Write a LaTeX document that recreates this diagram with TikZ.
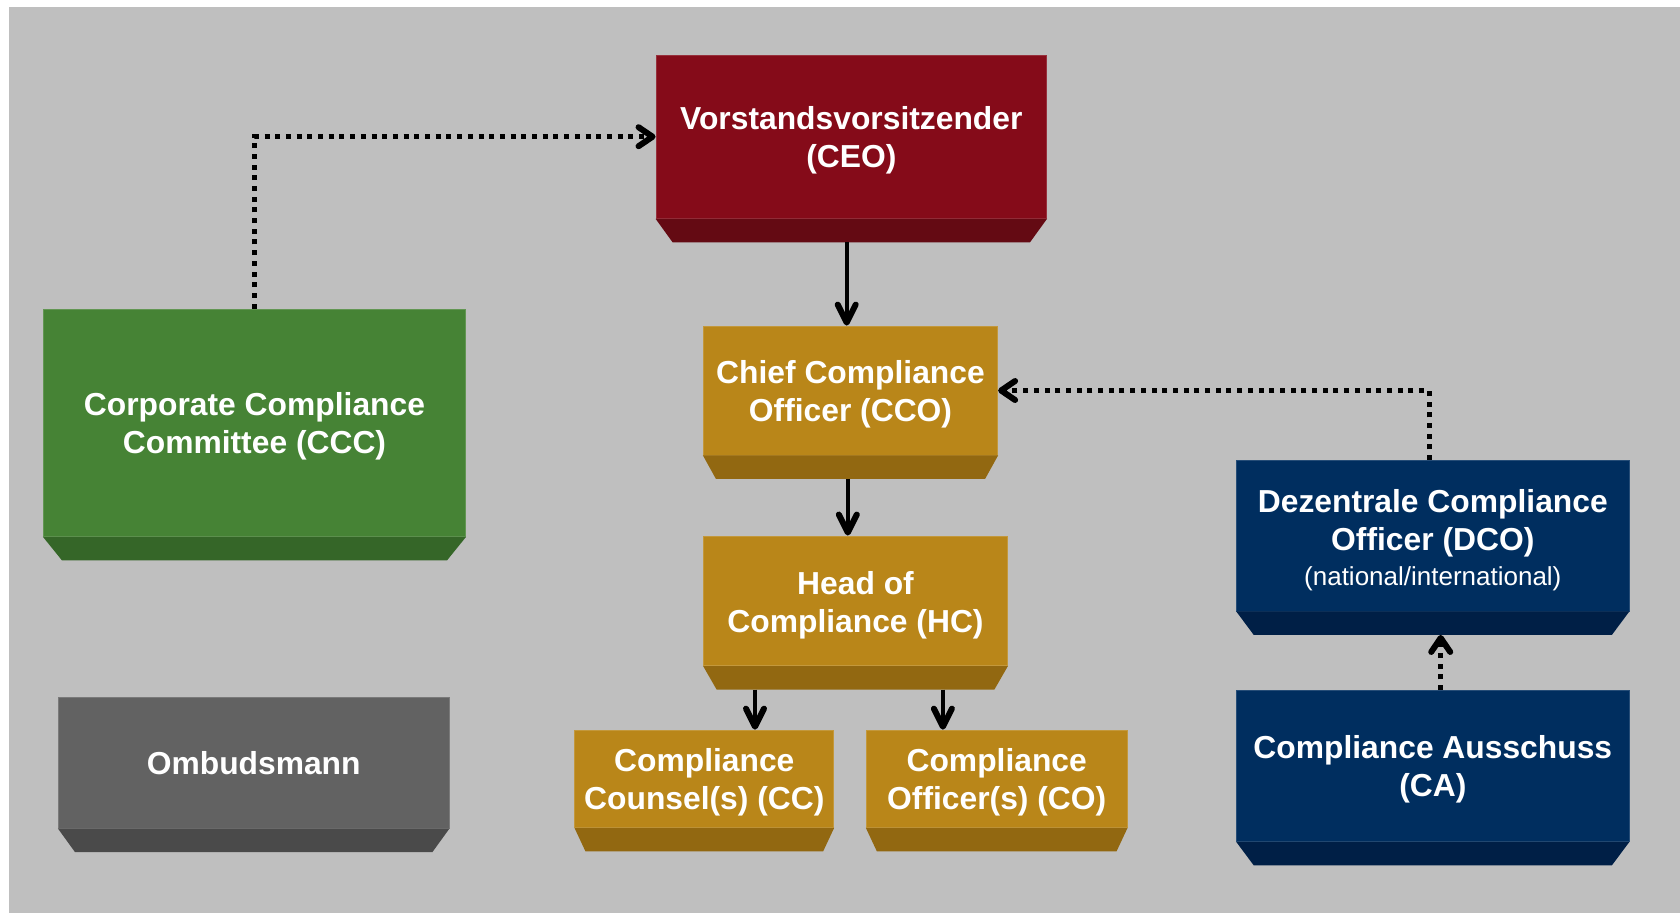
\documentclass[tikz,border=0pt]{standalone}
\usepackage{fontspec}
\setmainfont{Liberation Sans}
\usetikzlibrary{arrows.meta,calc}
\definecolor{bgc}{HTML}{BFBFBF}
\definecolor{redf}{HTML}{850B19}
\definecolor{redb}{HTML}{640A13}
\definecolor{goldf}{HTML}{B98619}
\definecolor{goldb}{HTML}{926811}
\definecolor{greenf}{HTML}{468335}
\definecolor{greenb}{HTML}{356628}
\definecolor{navyf}{HTML}{002E5F}
\definecolor{navyb}{HTML}{001F46}
\definecolor{grayf}{HTML}{626262}
\definecolor{grayb}{HTML}{4A4A4A}
\newcommand\bigfnt{\fontsize{31.8}{38}\selectfont\bfseries}
\newcommand\smallfnt{\fontsize{26}{30}\selectfont\mdseries}
\newcommand\bvl[3]{\fill[#2] (#1.south west) -- (#1.south east) -- ($(#1.south east)+(-#3,23.5)$) -- ($(#1.south west)+(#3,23.5)$) -- cycle;}
\tikzset{
  face/.style={rectangle, fill=#1, draw=#1!85!white, line width=0.8pt, inner sep=0pt},
  facetext/.style={inner sep=0pt, text=white, font=\bigfnt, align=center},
  solidarrow/.style={line width=4pt, -{Straight Barb[length=18pt,width=18pt,line width=6pt 0,round]}},
  dotarrow/.style={line width=5pt, dash pattern=on 5pt off 5.7pt,
    -{Straight Barb[length=14pt,width=19pt,line width=6pt 0,round]}},
}
\begin{document}
\begin{tikzpicture}[x=1pt,y=-1pt]
\useasboundingbox (0,0) rectangle (1680,913);
\fill[bgc] (9,7) rectangle (1680,913);

\node[face=redf, minimum width=390.7pt, minimum height=163.3pt] (ceo) at (851.3,136.7) {};
\bvl{ceo}{redb}{17}
\node[facetext] (ceo-t) at ([yshift=-4pt]ceo.center) {Vorstandsvorsitzender\\(CEO)};

\node[face=goldf, minimum width=294.4pt, minimum height=129pt] (cco) at (850.5,390.5) {};
\bvl{cco}{goldb}{13}
\node[facetext] (cco-t) at ([yshift=-4pt]cco.center) {Chief Compliance\\Officer (CCO)};

\node[face=goldf, minimum width=304pt, minimum height=129.7pt] (hc) at (855.5,600.8) {};
\bvl{hc}{goldb}{13.5}
\node[facetext] (hc-t) at ([yshift=-4pt]hc.center) {Head of\\Compliance (HC)};

\node[face=goldf, minimum width=259pt, minimum height=97.3pt] (cc) at (704.3,778.7) {};
\bvl{cc}{goldb}{11}
\node[facetext] (cc-t) at ([yshift=-4pt]cc.center) {Compliance\\Counsel(s) (CC)};

\node[face=goldf, minimum width=261pt, minimum height=97.3pt] (co) at (996.7,778.7) {};
\bvl{co}{goldb}{11}
\node[facetext] (co-t) at ([yshift=-4pt]co.center) {Compliance\\Officer(s) (CO)};

\node[face=navyf, minimum width=392.3pt, minimum height=150.5pt] (dco) at (1432.8,535.8) {};
\bvl{dco}{navyb}{17.5}
\node[facetext] (dco-t) at ([yshift=-4pt]dco.center)
  {Dezentrale Compliance\\Officer (DCO)\\[-3pt]{\smallfnt (national/international)}};

\node[face=navyf, minimum width=392.3pt, minimum height=151pt] (ca) at (1432.8,766) {};
\bvl{ca}{navyb}{17.5}
\node[facetext] (ca-t) at ([yshift=-3.5pt]ca.center) {Compliance Ausschuss\\(CA)};

\node[face=greenf, minimum width=422.4pt, minimum height=227.4pt] (ccc) at (254.5,422.7) {};
\bvl{ccc}{greenb}{19}
\node[facetext] (ccc-t) at ([yshift=-4pt]ccc.center) {Corporate Compliance\\Committee (CCC)};

\node[face=grayf, minimum width=390.7pt, minimum height=130.3pt] (omb) at (253.7,763) {};
\bvl{omb}{grayb}{17}
\node[facetext] (omb-t) at (omb.center) {Ombudsmann};

\coordinate (ceob) at ($(ceo.south)+(-4.6,23.5)$);
\coordinate (ccob) at ($(cco.south)+(-2.7,23.5)$);
\coordinate (hcbl) at ($(hc.south)+(-100.5,23.5)$);
\coordinate (hcbr) at ($(hc.south)+(87.4,23.5)$);
\coordinate (dcob) at ($(dco.south)+(7.9,23.5)$);
\coordinate (dcot) at ($(dco.north)+(-3.5,0)$);
\coordinate (cat) at ($(ca.north)+(7.9,0)$);

\draw[solidarrow] (ceob) -- (ceob |- cco.north);
\draw[solidarrow] (ccob) -- (ccob |- hc.north);
\draw[solidarrow] (hcbl) -- (hcbl |- cc.north);
\draw[solidarrow] (hcbr) -- (hcbr |- co.north);
\draw[dotarrow] (ccc.north) |- (ceo.west);
\draw[dotarrow] (dcot) |- (cco.east);
\draw[dotarrow] (cat) -- (dcob);
\end{tikzpicture}
\end{document}
